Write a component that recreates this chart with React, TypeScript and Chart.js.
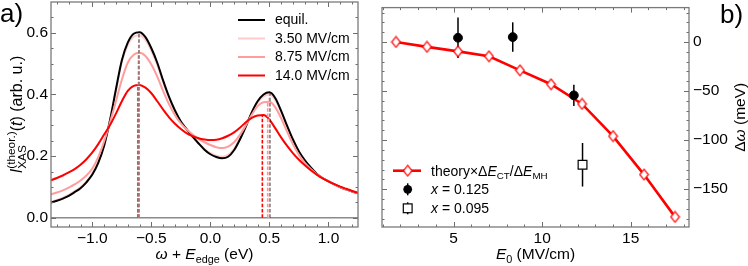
import React, { useEffect, useRef } from 'react';
import { Chart, registerables } from 'chart.js';
Chart.register(...registerables);

const FONT = '"Liberation Sans", Arial, Helvetica, sans-serif';

// ---------- Panel a) data ----------
const omega = [-1.35, -1.30, -1.25, -1.20, -1.15, -1.10, -1.05, -1.00, -0.95, -0.90, -0.85, -0.80, -0.75, -0.70, -0.65, -0.60, -0.55, -0.50, -0.45, -0.40, -0.35, -0.30, -0.25, -0.20, -0.15, -0.10, -0.05, 0.00, 0.05, 0.10, 0.15, 0.20, 0.25, 0.30, 0.35, 0.40, 0.45, 0.50, 0.55, 0.60, 0.65, 0.70, 0.75, 0.80, 0.85, 0.90, 0.95, 1.00, 1.05, 1.10, 1.15, 1.20, 1.25];
const xasEquil = [0.049, 0.055, 0.062, 0.071, 0.083, 0.096, 0.115, 0.140, 0.178, 0.234, 0.317, 0.417, 0.511, 0.568, 0.597, 0.602, 0.586, 0.550, 0.503, 0.445, 0.392, 0.348, 0.312, 0.287, 0.263, 0.241, 0.221, 0.206, 0.197, 0.193, 0.198, 0.219, 0.254, 0.296, 0.342, 0.378, 0.400, 0.407, 0.388, 0.346, 0.298, 0.253, 0.215, 0.186, 0.163, 0.143, 0.129, 0.118, 0.108, 0.099, 0.092, 0.085, 0.079];
const xas350 = [0.052, 0.058, 0.065, 0.074, 0.086, 0.099, 0.118, 0.143, 0.181, 0.236, 0.317, 0.414, 0.505, 0.560, 0.587, 0.592, 0.577, 0.542, 0.496, 0.440, 0.388, 0.345, 0.310, 0.285, 0.262, 0.242, 0.223, 0.210, 0.201, 0.198, 0.204, 0.223, 0.257, 0.297, 0.341, 0.374, 0.394, 0.400, 0.382, 0.342, 0.296, 0.252, 0.214, 0.186, 0.163, 0.143, 0.129, 0.118, 0.108, 0.099, 0.092, 0.085, 0.079];
const xas875 = [0.076, 0.082, 0.089, 0.098, 0.108, 0.121, 0.137, 0.160, 0.197, 0.248, 0.310, 0.378, 0.448, 0.503, 0.529, 0.535, 0.525, 0.497, 0.458, 0.411, 0.368, 0.333, 0.306, 0.286, 0.270, 0.256, 0.245, 0.236, 0.229, 0.226, 0.231, 0.245, 0.269, 0.300, 0.334, 0.362, 0.375, 0.376, 0.358, 0.322, 0.279, 0.238, 0.204, 0.178, 0.158, 0.142, 0.129, 0.118, 0.108, 0.099, 0.092, 0.085, 0.079];
const xas140 = [0.122, 0.129, 0.137, 0.147, 0.158, 0.172, 0.190, 0.212, 0.239, 0.270, 0.301, 0.338, 0.378, 0.412, 0.428, 0.431, 0.422, 0.404, 0.378, 0.351, 0.326, 0.305, 0.288, 0.274, 0.265, 0.258, 0.254, 0.252, 0.253, 0.258, 0.266, 0.277, 0.292, 0.310, 0.324, 0.332, 0.333, 0.318, 0.290, 0.260, 0.233, 0.209, 0.188, 0.170, 0.154, 0.140, 0.128, 0.118, 0.109, 0.101, 0.094, 0.087, 0.081];
const seriesLabels = ['equil.', '3.50 MV/cm', '8.75 MV/cm', '14.0 MV/cm'];
const leftPeakPos = [-0.605, -0.605, -0.61, -0.615];
const leftPeakVal = [0.602, 0.592, 0.535, 0.431];
const rightPeakPos = [0.505, 0.497, 0.485, 0.44];
const rightPeakVal = [0.407, 0.400, 0.376, 0.333];
const aXTicks = [-1.0, -0.5, 0.0, 0.5, 1.0];
const aXMinor = [-1.3, -1.2, -1.1, -0.9, -0.8, -0.7, -0.6, -0.4, -0.3, -0.2, -0.1, 0.1, 0.2, 0.3, 0.4, 0.6, 0.7, 0.8, 0.9, 1.1, 1.2];
const aYTicks = [0.0, 0.2, 0.4, 0.6];
const aYMinor = [0.05, 0.1, 0.15, 0.25, 0.3, 0.35, 0.45, 0.5, 0.55, 0.65];

// ---------- Panel b) data ----------
const e0Theory = [1.75, 3.5, 5.25, 7.0, 8.75, 10.5, 12.25, 14.0, 15.75, 17.5];
const dwTheory = [0, -5.0, -9.6, -14.6, -28.9, -43.1, -63.1, -95.9, -135.1, -178.2];
const e0X125 = [5.25, 8.34, 11.79];
const dwX125 = [4.3, 5.0, -54.4];
const errX125 = [20.6, 15.0, 10.8];
const e0X095 = [12.28];
const dwX095 = [-125.1];
const errX095 = [22.2];
const bXTicks = [5, 10, 15];
const bXMinor = [1, 2, 3, 4, 6, 7, 8, 9, 11, 12, 13, 14, 16, 17, 18];
const bYTicks = [-150, -100, -50, 0];
const bYMinor = [-180, -170, -160, -140, -130, -120, -110, -90, -80, -70, -60, -40, -30, -20, -10, 10, 20, 30];

const curveColors = ['#000000', '#ffcaca', '#ff9c9c', '#ff0000'];
const dashColors = ['rgba(0,0,0,0.45)', '#ffc4c4', '#ff9292', '#ff0000'];
const curveOrder = [3, 4, 2, 1];

type Seg = { t: string; it?: boolean; sub?: boolean; sup?: boolean; stack?: boolean };

function drawRich(ctx: CanvasRenderingContext2D, segs: Seg[], x: number, y: number, size: number, align: 'left' | 'center' | 'right', small = 0.7) {
  const font = (s: Seg) => `${s.it ? 'italic ' : ''}${s.sub || s.sup ? size * small : size}px ${FONT}`;
  let prevStart = 0;
  let maxEnd = 0;
  const pos: number[] = [];
  segs.forEach((s) => {
    ctx.font = font(s);
    const w = ctx.measureText(s.t).width;
    const start = s.stack ? prevStart : maxEnd;
    pos.push(start);
    prevStart = start;
    maxEnd = Math.max(maxEnd, start + w);
  });
  const x0 = align === 'center' ? x - maxEnd / 2 : align === 'right' ? x - maxEnd : x;
  ctx.textBaseline = 'alphabetic';
  ctx.textAlign = 'left';
  segs.forEach((s, i) => {
    ctx.font = font(s);
    const dy = s.sub ? size * 0.24 : s.sup ? -size * 0.42 : 0;
    ctx.fillText(s.t, x0 + pos[i], y + dy);
  });
}

const frameTicks = {
  id: 'frameTicks',
  afterDatasetsDraw(chart: any, _args: any, opts: any) {
    const { ctx, chartArea: a, scales } = chart;
    const xs = scales.x;
    const ys = scales.y;
    ctx.save();
    ctx.strokeStyle = '#6e6e6e';
    ctx.lineWidth = 1;
    const drawX = (vals: number[], len: number) => {
      vals.forEach((v) => {
        const p = Math.round(xs.getPixelForValue(v)) + 0.5;
        ctx.beginPath();
        ctx.moveTo(p, a.bottom);
        ctx.lineTo(p, a.bottom - len);
        ctx.moveTo(p, a.top);
        ctx.lineTo(p, a.top + len);
        ctx.stroke();
      });
    };
    const drawY = (vals: number[], len: number) => {
      vals.forEach((v) => {
        const p = Math.round(ys.getPixelForValue(v)) + 0.5;
        ctx.beginPath();
        ctx.moveTo(a.left, p);
        ctx.lineTo(a.left + len, p);
        ctx.moveTo(a.right, p);
        ctx.lineTo(a.right - len, p);
        ctx.stroke();
      });
    };
    drawX(opts.xMajor, 5);
    drawX(opts.xMinor, 2.5);
    drawY(opts.yMajor, 5);
    drawY(opts.yMinor, 2.5);
    ctx.lineWidth = 1.3;
    ctx.strokeStyle = '#7a7a7a';
    ctx.strokeRect(a.left, a.top, a.right - a.left, a.bottom - a.top);
    ctx.restore();
  },
};

const minus = (s: string) => s.replace('-', '\u2212');

function makeDiamond(w: number, h: number, stroke: string, fill: string, lw: number) {
  const c = document.createElement('canvas');
  c.width = Math.ceil(w + lw * 2);
  c.height = Math.ceil(h + lw * 2);
  const g = c.getContext('2d')!;
  g.beginPath();
  g.moveTo(c.width / 2, lw);
  g.lineTo(c.width - lw, c.height / 2);
  g.lineTo(c.width / 2, c.height - lw);
  g.lineTo(lw, c.height / 2);
  g.closePath();
  g.fillStyle = fill;
  g.fill();
  g.lineWidth = lw;
  g.strokeStyle = stroke;
  g.stroke();
  return c;
}

const tickFont = { family: FONT, size: 15.5 };

const fitX = (s: any) => { s.height = 39; s.paddingLeft = 0; s.paddingRight = 0; s.paddingTop = 0; s.paddingBottom = 0; };
const fitY = (w: number) => (s: any) => { s.width = w; s.paddingLeft = 0; s.paddingRight = 0; s.paddingTop = 0; s.paddingBottom = 0; };

function leftConfig(): any {
  const curves = [xasEquil, xas350, xas875, xas140];
  const datasets: any[] = [];
  curves.forEach((vals, i) => {
    datasets.push({
      label: seriesLabels[i],
      data: omega.map((x, j) => ({ x, y: vals[j] })),
      borderColor: curveColors[i],
      borderWidth: 2,
      pointRadius: 0,
      cubicInterpolationMode: 'monotone',
      fill: false,
      order: curveOrder[i],
    });
  });
  curves.forEach((_v, i) => {
    [[leftPeakPos[i], leftPeakVal[i]], [rightPeakPos[i], rightPeakVal[i]]].forEach(([px, pv]) => {
      datasets.push({
        label: '',
        data: [{ x: px, y: 0 }, { x: px, y: pv }],
        borderColor: dashColors[i],
        borderWidth: 1.6,
        borderDash: [3.5, 1.8],
        pointRadius: 0,
        fill: false,
        order: 0,
      });
    });
  });

  const deco = {
    id: 'decoA',
    beforeDatasetsDraw(chart: any) {
      const { ctx, chartArea: a, scales } = chart;
      const p = scales.y.getPixelForValue(0);
      ctx.save();
      ctx.strokeStyle = '#8a8a8a';
      ctx.lineWidth = 1.3;
      ctx.beginPath();
      ctx.moveTo(a.left, p);
      ctx.lineTo(a.right, p);
      ctx.stroke();
      ctx.restore();
    },
    afterDraw(chart: any) {
      const { ctx, chartArea: a } = chart;
      ctx.save();
      ctx.fillStyle = '#000';
      const rows = [20, 38.5, 57, 75.5];
      seriesLabels.forEach((lab, i) => {
        ctx.strokeStyle = curveColors[i];
        ctx.lineWidth = 2;
        ctx.beginPath();
        ctx.moveTo(238, rows[i]);
        ctx.lineTo(265, rows[i]);
        ctx.stroke();
        ctx.font = `14px ${FONT}`;
        ctx.textBaseline = 'middle';
        ctx.textAlign = 'left';
        ctx.fillText(lab, 275, rows[i] + 0.5);
      });
      drawRich(ctx, [{ t: 'ω', it: true }, { t: ' + ' }, { t: 'E', it: true }, { t: 'edge', sub: true }, { t: ' (eV)' }], (a.left + a.right) / 2, 259, 15.5, 'center');
      ctx.save();
      ctx.translate(22, (a.top + a.bottom) / 2);
      ctx.rotate(-Math.PI / 2);
      drawRich(ctx, [{ t: 'I', it: true }, { t: '(theor.)', sup: true }, { t: 'XAS', sub: true, stack: true }, { t: '(' }, { t: 't', it: true }, { t: ')' }, { t: ' (arb. u.)' }], 0, 0, 16, 'center', 0.74);
      ctx.restore();
      ctx.font = `26px ${FONT}`;
      ctx.textBaseline = 'alphabetic';
      ctx.textAlign = 'left';
      ctx.fillText('a)', 0, 22);
      ctx.restore();
    },
  };

  return {
    type: 'line',
    data: { datasets },
    options: {
      animation: false,
      responsive: false,
      devicePixelRatio: 1,
      events: [],
      layout: { padding: { top: 2, right: 16, left: 0, bottom: 0 } },
      plugins: {
        legend: { display: false },
        tooltip: { enabled: false },
        frameTicks: { xMajor: aXTicks, xMinor: aXMinor, yMajor: aYTicks, yMinor: aYMinor },
      },
      scales: {
        x: {
          type: 'linear',
          min: -1.35,
          max: 1.25,
          afterBuildTicks: (s: any) => { s.ticks = aXTicks.map((v) => ({ value: v })); },
          afterFit: fitX,
          ticks: { font: tickFont, color: '#000', padding: 2, maxRotation: 0, autoSkip: false, callback: (v: number) => minus(v.toFixed(1)) },
          grid: { display: false, drawTicks: false },
          border: { display: false },
        },
        y: {
          type: 'linear',
          min: -0.03,
          max: 0.70,
          afterBuildTicks: (s: any) => { s.ticks = aYTicks.map((v) => ({ value: v })); },
          afterFit: fitY(51),
          ticks: { font: tickFont, color: '#000', padding: 3, autoSkip: false, callback: (v: number) => minus(v.toFixed(1)) },
          grid: { display: false, drawTicks: false },
          border: { display: false },
        },
      },
    },
    plugins: [deco, frameTicks],
  };
}

function rightConfig(): any {
  const diamond = makeDiamond(8, 10.5, '#ff0000', '#ffffff', 1.2);
  const datasets: any[] = [
    {
      label: 'x125',
      data: e0X125.map((x, i) => ({ x, y: dwX125[i] })),
      showLine: false,
      pointStyle: 'circle',
      pointRadius: 4.4,
      backgroundColor: '#000',
      borderColor: '#000',
      borderWidth: 1,
      order: 0,
    },
    {
      label: 'x095',
      data: e0X095.map((x, i) => ({ x, y: dwX095[i] })),
      showLine: false,
      pointStyle: 'rect',
      pointRadius: 6.2,
      backgroundColor: '#fff',
      borderColor: '#000',
      borderWidth: 1.2,
      order: 1,
    },
    {
      label: 'theory',
      data: e0Theory.map((x, i) => ({ x, y: dwTheory[i] })),
      borderColor: '#ff0000',
      borderWidth: 2.6,
      pointStyle: diamond,
      pointRadius: 5,
      tension: 0,
      fill: false,
      order: 2,
    },
  ];

  const deco = {
    id: 'decoB',
    beforeDatasetsDraw(chart: any) {
      const { ctx, scales } = chart;
      ctx.save();
      ctx.strokeStyle = '#000';
      ctx.lineWidth = 1.5;
      const bars = (xs: number[], ys: number[], es: number[]) => {
        xs.forEach((x, i) => {
          const px = scales.x.getPixelForValue(x);
          ctx.beginPath();
          ctx.moveTo(px, scales.y.getPixelForValue(ys[i] + es[i]));
          ctx.lineTo(px, scales.y.getPixelForValue(ys[i] - es[i]));
          ctx.stroke();
        });
      };
      bars(e0X125, dwX125, errX125);
      bars(e0X095, dwX095, errX095);
      ctx.restore();
    },
    afterDraw(chart: any) {
      const { ctx, chartArea: a } = chart;
      ctx.save();
      ctx.fillStyle = '#000';
      const mx = 33.7;
      const rows = [170.7, 189.3, 208.3];
      ctx.strokeStyle = '#ff0000';
      ctx.lineWidth = 2.6;
      ctx.beginPath();
      ctx.moveTo(19, rows[0]);
      ctx.lineTo(47, rows[0]);
      ctx.stroke();
      ctx.drawImage(diamond, mx - diamond.width / 2, rows[0] - diamond.height / 2);
      ctx.strokeStyle = '#000';
      ctx.lineWidth = 1.5;
      ctx.beginPath();
      ctx.moveTo(mx, rows[1] - 6);
      ctx.lineTo(mx, rows[1] + 6);
      ctx.stroke();
      ctx.beginPath();
      ctx.arc(mx, rows[1], 4.4, 0, Math.PI * 2);
      ctx.fill();
      ctx.beginPath();
      ctx.moveTo(mx, rows[2] - 6);
      ctx.lineTo(mx, rows[2] + 6);
      ctx.stroke();
      ctx.fillStyle = '#fff';
      ctx.lineWidth = 1.2;
      ctx.fillRect(mx - 4.4, rows[2] - 4.4, 8.8, 8.8);
      ctx.strokeRect(mx - 4.4, rows[2] - 4.4, 8.8, 8.8);
      ctx.fillStyle = '#000';
      const tx = 57;
      drawRich(ctx, [{ t: 'theory×Δ' }, { t: 'E', it: true }, { t: 'CT', sub: true }, { t: '/Δ' }, { t: 'E', it: true }, { t: 'MH', sub: true }], tx, rows[0] + 5, 14, 'left');
      drawRich(ctx, [{ t: 'x', it: true }, { t: ' = 0.125' }], tx, rows[1] + 5, 14, 'left');
      drawRich(ctx, [{ t: 'x', it: true }, { t: ' = 0.095' }], tx, rows[2] + 5, 14, 'left');
      drawRich(ctx, [{ t: 'E', it: true }, { t: '0', sub: true }, { t: ' (MV/cm)' }], (a.left + a.right) / 2, 259, 15.5, 'center');
      ctx.save();
      ctx.translate(371, (a.top + a.bottom) / 2);
      ctx.rotate(-Math.PI / 2);
      drawRich(ctx, [{ t: 'Δ' }, { t: 'ω', it: true }, { t: ' (meV)' }], 0, 0, 15.5, 'center');
      ctx.restore();
      ctx.font = `26px ${FONT}`;
      ctx.textBaseline = 'alphabetic';
      ctx.textAlign = 'left';
      ctx.fillText('b)', 346, 23);
      ctx.restore();
    },
  };

  return {
    type: 'line',
    data: { datasets },
    options: {
      animation: false,
      responsive: false,
      devicePixelRatio: 1,
      events: [],
      layout: { padding: { top: 2, right: 0, left: 8, bottom: 0 } },
      plugins: {
        legend: { display: false },
        tooltip: { enabled: false },
        frameTicks: { xMajor: bXTicks, xMinor: bXMinor, yMajor: bYTicks, yMinor: bYMinor },
      },
      scales: {
        x: {
          type: 'linear',
          min: 0.96,
          max: 18.29,
          afterBuildTicks: (s: any) => { s.ticks = bXTicks.map((v) => ({ value: v })); },
          afterFit: fitX,
          ticks: { font: tickFont, color: '#000', padding: 2, maxRotation: 0, autoSkip: false, callback: (v: number) => String(v) },
          grid: { display: false, drawTicks: false },
          border: { display: false },
        },
        y: {
          type: 'linear',
          position: 'right',
          min: -188.5,
          max: 35,
          afterBuildTicks: (s: any) => { s.ticks = bYTicks.map((v) => ({ value: v })); },
          afterFit: fitY(59),
          ticks: { font: tickFont, color: '#000', padding: 4, autoSkip: false, callback: (v: number) => minus(String(v)) },
          grid: { display: false, drawTicks: false },
          border: { display: false },
        },
      },
    },
    plugins: [deco, frameTicks],
  };
}

export default function App() {
  const leftRef = useRef<HTMLCanvasElement>(null);
  const rightRef = useRef<HTMLCanvasElement>(null);
  useEffect(() => {
    const c1 = new Chart(leftRef.current!, leftConfig());
    const c2 = new Chart(rightRef.current!, rightConfig());
    return () => {
      c1.destroy();
      c2.destroy();
    };
  }, []);
  return (
    <div style={{ position: 'fixed', left: 0, top: 0, width: 748, height: 266, background: '#fff' }}>
      <canvas ref={leftRef} width={374} height={266} style={{ position: 'absolute', left: 0, top: 0, width: 374, height: 266 }} />
      <canvas ref={rightRef} width={374} height={266} style={{ position: 'absolute', left: 374, top: 0, width: 374, height: 266 }} />
    </div>
  );
}
